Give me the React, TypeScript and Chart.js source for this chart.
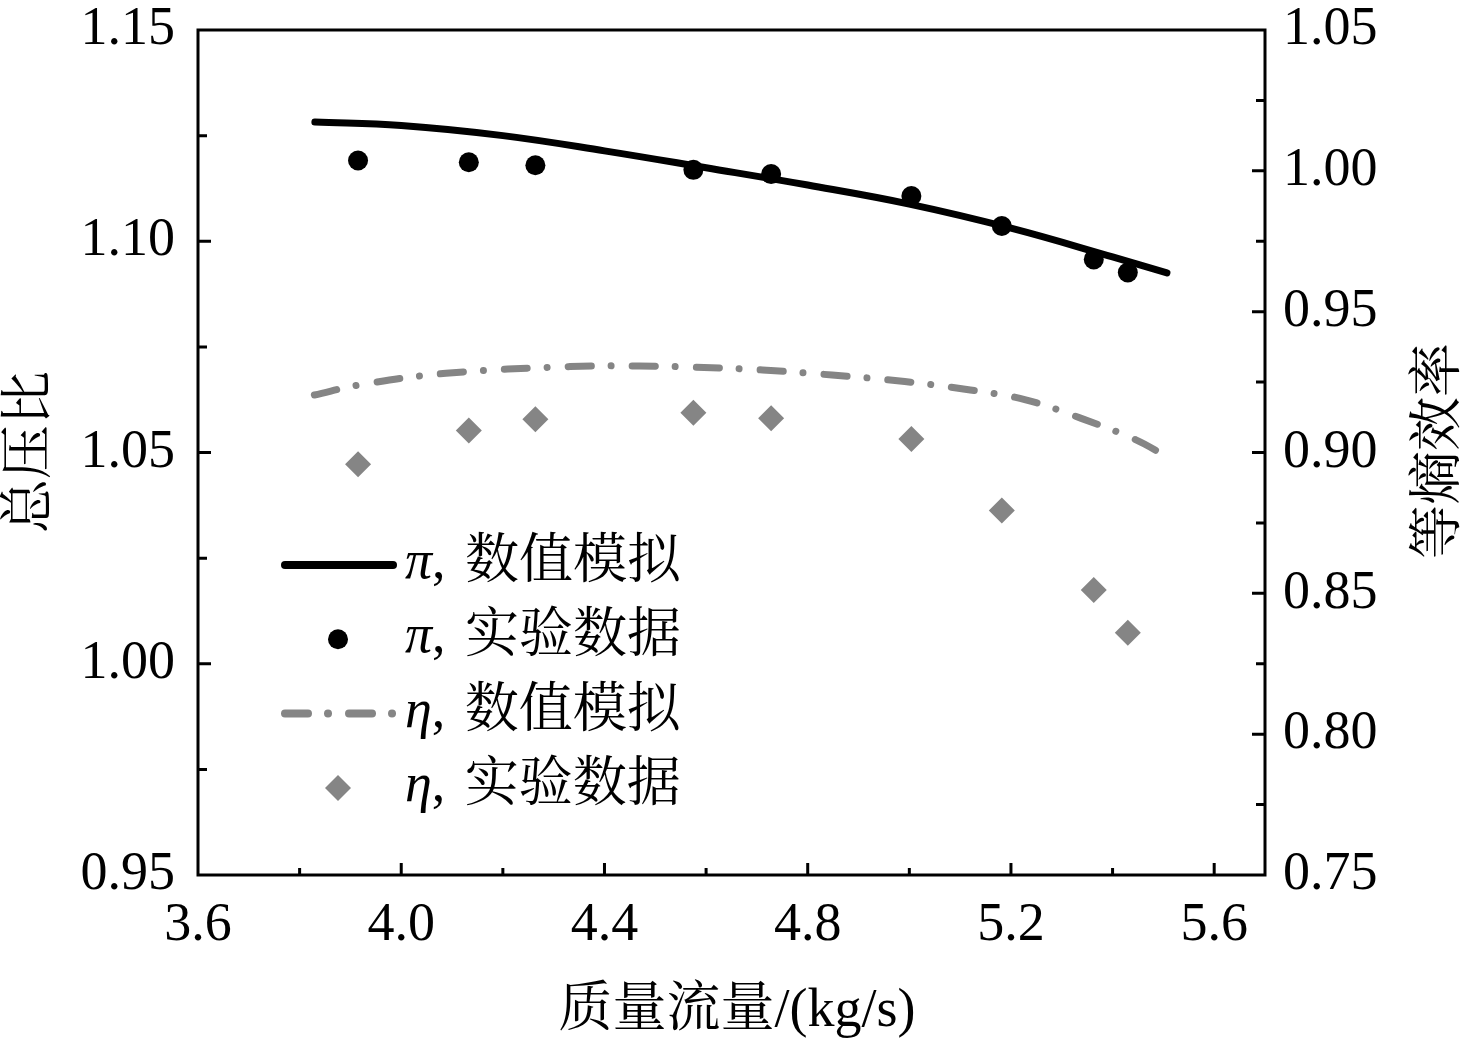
import { useEffect, useRef } from "react"
import { Chart, registerables } from "chart.js"

Chart.register(...registerables)

// π (total pressure ratio), numerical simulation
const piSimFlow = [3.83, 4.0, 4.2, 4.4, 4.6, 4.8, 5.0, 5.2, 5.4, 5.507]
const piSimValues = [1.1282, 1.1274, 1.125, 1.1214, 1.1174, 1.1133, 1.1088, 1.1031, 1.0963, 1.0925]

// experimental points (same mass flows for π and η)
const expFlow = [3.915, 4.133, 4.264, 4.575, 4.728, 5.004, 5.182, 5.363, 5.43]
const piExpValues = [1.1191, 1.1187, 1.118, 1.1169, 1.1159, 1.1107, 1.1036, 1.0957, 1.0926]
const etaExpValues = [0.8958, 0.9078, 0.9118, 0.9141, 0.9122, 0.9048, 0.8794, 0.8512, 0.836]

// η (isentropic efficiency), numerical simulation
const etaSimFlow = [3.829, 3.918, 4.088, 4.332, 4.468, 4.575, 4.711, 4.848, 4.991, 5.12, 5.229, 5.337, 5.446, 5.504]
const etaSimValues = [
  0.9204, 0.924, 0.9281, 0.9305, 0.9307, 0.9303, 0.9293, 0.9275, 0.9252, 0.9222, 0.9187, 0.9122, 0.9045,
  0.8988,
]

// axis ticks (labelled every other one)
const xTicks = [3.6, 3.8, 4.0, 4.2, 4.4, 4.6, 4.8, 5.0, 5.2, 5.4, 5.6]
const yLeftTicks = [0.95, 0.975, 1.0, 1.025, 1.05, 1.075, 1.1, 1.125, 1.15]
const yRightTicks = [0.75, 0.775, 0.8, 0.825, 0.85, 0.875, 0.9, 0.925, 0.95, 0.975, 1.0, 1.025, 1.05]

const legendSymbols = ["π", "π", "η", "η"]
const legendLabels = ["数值模拟", "实验数据", "数值模拟", "实验数据"]

const xTitle = "质量流量/(kg/s)"
const yLeftTitle = "总压比"
const yRightTitle = "等熵效率"

const SERIF = '"Liberation Serif", "Times New Roman", "Noto Serif CJK SC", "Noto Sans CJK SC", serif'
const GRAY = "#858585"
const DASH = [23, 20, 0.01, 21]

const isMultiple = (v: number, step: number) => Math.abs(v / step - Math.round(v / step)) < 1e-6

const zip = (xs: number[], ys: number[]) => xs.map((x, i) => ({ x, y: ys[i] }))

const framePlugin = {
  id: "frame",
  afterDraw(chart: any) {
    const { ctx, chartArea: a, scales } = chart
    ctx.save()
    ctx.strokeStyle = "#000"
    ctx.lineWidth = 3
    ctx.strokeRect(a.left, a.top, a.right - a.left, a.bottom - a.top)

    // inward ticks
    ctx.beginPath()
    for (const v of xTicks) {
      if (v <= 3.61) continue
      const px = scales.x.getPixelForValue(v)
      const len = isMultiple(v, 0.4) ? 12 : 7
      ctx.moveTo(px, a.bottom)
      ctx.lineTo(px, a.bottom - len)
    }
    for (const v of yLeftTicks) {
      if (v <= 0.951 || v >= 1.149) continue
      const py = scales.y.getPixelForValue(v)
      const len = isMultiple(v, 0.05) ? 13 : 9
      ctx.moveTo(a.left, py)
      ctx.lineTo(a.left + len, py)
    }
    for (const v of yRightTicks) {
      if (v <= 0.751 || v >= 1.049) continue
      const py = scales.y1.getPixelForValue(v)
      const len = isMultiple(v, 0.05) ? 13 : 9
      ctx.moveTo(a.right, py)
      ctx.lineTo(a.right - len, py)
    }
    ctx.stroke()

    // axis titles
    ctx.fillStyle = "#000"
    ctx.font = `54px ${SERIF}`
    ctx.textAlign = "center"
    ctx.textBaseline = "middle"
    ctx.fillText(xTitle, 737, 1012)
    ctx.save()
    ctx.translate(32, 452)
    ctx.rotate(-Math.PI / 2)
    ctx.fillText(yLeftTitle, 0, 0)
    ctx.restore()
    ctx.save()
    ctx.translate(1441, 451)
    ctx.rotate(-Math.PI / 2)
    ctx.fillText(yRightTitle, 0, 0)
    ctx.restore()

    // legend
    legendLabels.forEach((label, i) => {
      const y = 565 + i * 74.3
      ctx.save()
      if (i === 0 || i === 2) {
        ctx.strokeStyle = i === 0 ? "#000" : GRAY
        ctx.lineWidth = 8
        ctx.lineCap = "round"
        ctx.setLineDash(i === 0 ? [] : DASH)
        ctx.beginPath()
        ctx.moveTo(285, y)
        ctx.lineTo(393, y)
        ctx.stroke()
      } else if (i === 1) {
        ctx.fillStyle = "#000"
        ctx.beginPath()
        ctx.arc(338, y, 10, 0, Math.PI * 2)
        ctx.fill()
      } else {
        ctx.fillStyle = GRAY
        ctx.beginPath()
        ctx.moveTo(338, y - 13)
        ctx.lineTo(351, y)
        ctx.lineTo(338, y + 13)
        ctx.lineTo(325, y)
        ctx.closePath()
        ctx.fill()
      }
      ctx.restore()

      const base = y + 13
      ctx.textAlign = "left"
      ctx.textBaseline = "alphabetic"
      ctx.font = `italic 54px ${SERIF}`
      let x = 405
      ctx.fillText(legendSymbols[i], x, base)
      x += ctx.measureText(legendSymbols[i]).width
      ctx.font = `54px ${SERIF}`
      ctx.fillText(", ", x, base)
      x += ctx.measureText(", ").width + 6
      ctx.fillText(label, x, base)
    })
    ctx.restore()
  },
}

export default function App() {
  const chartRef = useRef<HTMLCanvasElement>(null)
  const chartInstance = useRef<Chart | null>(null)

  useEffect(() => {
    document.body.style.margin = "0"
    if (!chartRef.current) return
    const ctx = chartRef.current.getContext("2d")
    if (!ctx) return
    if (chartInstance.current) chartInstance.current.destroy()

    const tickFont = { family: SERIF, size: 54 }
    const setTicks = (values: number[]) => (s: any) => {
      s.ticks = values.map((value) => ({ value }))
    }
    // fixed axis boxes so the plot area matches the figure
    const fixSize = (key: "width" | "height", size: number) => (s: any) => {
      s[key] = size
      s.paddingTop = 0
      s.paddingBottom = 0
      s.paddingLeft = 0
      s.paddingRight = 0
    }

    chartInstance.current = new Chart(ctx, {
      type: "scatter",
      data: {
        datasets: [
          {
            label: "π, 数值模拟",
            data: zip(piSimFlow, piSimValues),
            yAxisID: "y",
            showLine: true,
            borderColor: "#000",
            borderWidth: 7,
            borderCapStyle: "round",
            tension: 0.4,
            pointRadius: 0,
          },
          {
            label: "π, 实验数据",
            data: zip(expFlow, piExpValues),
            yAxisID: "y",
            pointStyle: "circle",
            pointRadius: 10,
            backgroundColor: "#000",
            borderWidth: 0,
          },
          {
            label: "η, 数值模拟",
            data: zip(etaSimFlow, etaSimValues),
            yAxisID: "y1",
            showLine: true,
            borderColor: GRAY,
            borderWidth: 7,
            borderCapStyle: "round",
            borderDash: DASH,
            tension: 0.4,
            pointRadius: 0,
          },
          {
            label: "η, 实验数据",
            data: zip(expFlow, etaExpValues),
            yAxisID: "y1",
            pointStyle: "rectRot",
            pointRadius: 13,
            backgroundColor: GRAY,
            borderWidth: 0,
          },
        ],
      },
      options: {
        responsive: false,
        animation: false,
        layout: { padding: { top: 30, left: 0, right: 0, bottom: 0 } },
        plugins: {
          legend: { display: false },
          tooltip: { enabled: false },
        },
        scales: {
          x: {
            type: "linear",
            min: 3.6,
            max: 5.7,
            grid: { display: false, drawTicks: false },
            border: { display: false },
            afterBuildTicks: setTicks(xTicks),
            ticks: {
              autoSkip: false,
              maxRotation: 0,
              padding: 18,
              color: "#000",
              font: tickFont,
              callback: (v: any) => (isMultiple(v, 0.4) ? Number(v).toFixed(1) : ""),
            },
            afterFit: fixSize("height", 172),
          },
          y: {
            position: "left",
            min: 0.95,
            max: 1.15,
            grid: { display: false, drawTicks: false },
            border: { display: false },
            afterBuildTicks: setTicks(yLeftTicks),
            ticks: {
              autoSkip: false,
              padding: 23,
              color: "#000",
              font: tickFont,
              callback: (v: any) => (isMultiple(v, 0.05) ? Number(v).toFixed(2) : ""),
            },
            afterFit: fixSize("width", 198),
          },
          y1: {
            position: "right",
            min: 0.75,
            max: 1.05,
            grid: { display: false, drawTicks: false },
            border: { display: false },
            afterBuildTicks: setTicks(yRightTicks),
            ticks: {
              autoSkip: false,
              padding: 18,
              color: "#000",
              font: tickFont,
              callback: (v: any) => (isMultiple(v, 0.05) ? Number(v).toFixed(2) : ""),
            },
            afterFit: fixSize("width", 211),
          },
        },
      },
      plugins: [framePlugin],
    })

    return () => {
      if (chartInstance.current) {
        chartInstance.current.destroy()
        chartInstance.current = null
      }
    }
  }, [])

  return (
    <div style={{ width: 1476, height: 1047, background: "#fff" }}>
      <canvas ref={chartRef} width={1476} height={1047} />
    </div>
  )
}
